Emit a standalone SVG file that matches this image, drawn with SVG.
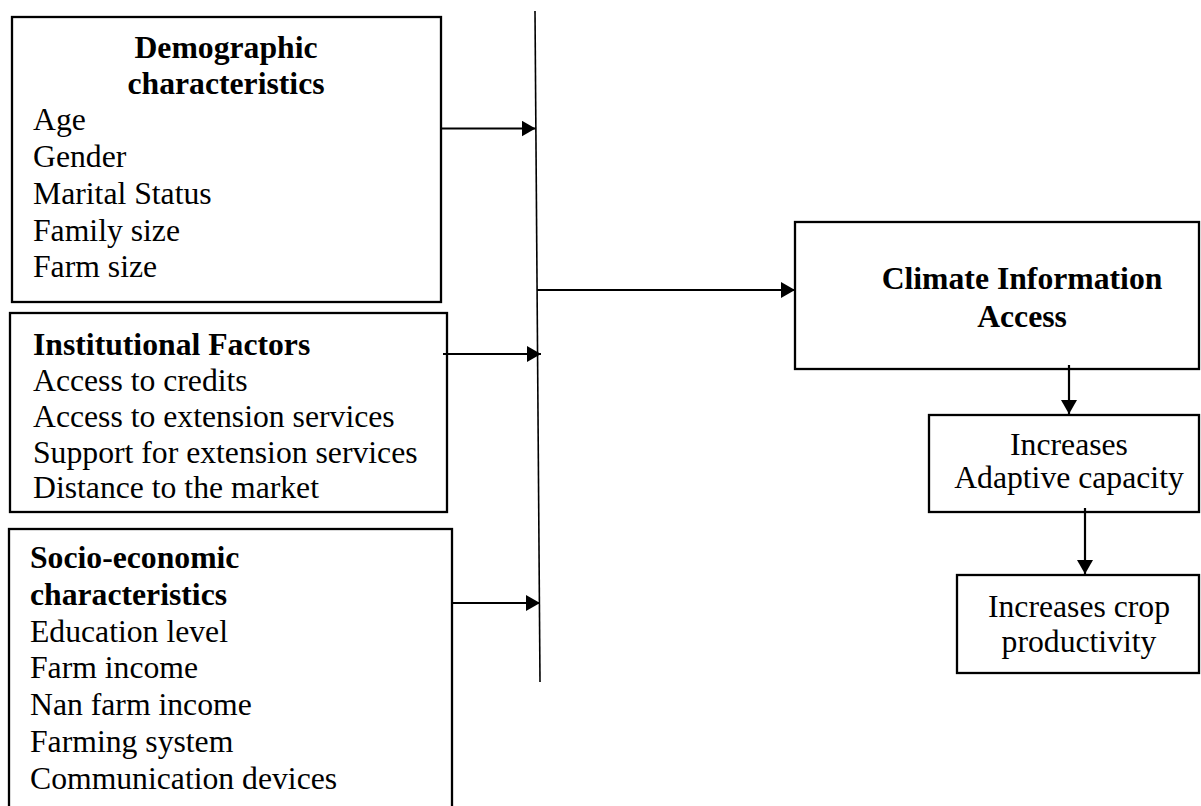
<svg xmlns="http://www.w3.org/2000/svg" width="1201" height="806" viewBox="0 0 1201 806">
<style>
.box{fill:#fff;stroke:#000;stroke-width:2.3}
.t{font-family:"Liberation Serif","Times New Roman",serif;font-size:31.7px;fill:#000}
.b{font-weight:bold}
.c{text-anchor:middle}
.ln{stroke:#000;stroke-width:2.2;fill:none}
.ar{stroke:#000;stroke-width:2.2;fill:none;marker-end:url(#ah)}
</style>
<defs>
<marker id="ah" viewBox="0 0 14 16" refX="14" refY="8" markerWidth="14" markerHeight="16" markerUnits="userSpaceOnUse" orient="auto">
<path d="M0,0 L14,8 L0,16 z" fill="#000"/>
</marker>
</defs>
<rect width="1201" height="806" fill="#fff"/>
<g id="demographic">
<rect class="box" x="12" y="17" width="429" height="285"/>
<text class="t b c" x="226" y="58">Demographic</text>
<text class="t b c" x="226" y="94">characteristics</text>
<text class="t" x="33" y="130">Age</text>
<text class="t" x="33" y="167">Gender</text>
<text class="t" x="33" y="204">Marital Status</text>
<text class="t" x="33" y="241">Family size</text>
<text class="t" x="33" y="277">Farm size</text>
</g>
<g id="institutional">
<rect class="box" x="10" y="313" width="437" height="199"/>
<text class="t b" x="33" y="355">Institutional Factors</text>
<text class="t" x="33" y="391">Access to credits</text>
<text class="t" x="33" y="427">Access to extension services</text>
<text class="t" x="33" y="463">Support for extension services</text>
<text class="t" x="33" y="498">Distance to the market</text>
</g>
<g id="socioeconomic">
<rect class="box" x="9" y="529" width="443" height="290"/>
<text class="t b" x="30" y="568">Socio-economic</text>
<text class="t b" x="30" y="605">characteristics</text>
<text class="t" x="30" y="642">Education level</text>
<text class="t" x="30" y="678">Farm income</text>
<text class="t" x="30" y="715">Nan farm income</text>
<text class="t" x="30" y="752">Farming system</text>
<text class="t" x="30" y="789">Communication devices</text>
</g>
<g id="climate">
<rect class="box" x="795" y="222" width="404" height="147"/>
<text class="t b c" x="1022" y="289">Climate Information</text>
<text class="t b c" x="1022" y="327">Access</text>
</g>
<g id="adaptive">
<rect class="box" x="929" y="415" width="270" height="97"/>
<text class="t c" x="1069" y="455">Increases</text>
<text class="t c" x="1069" y="488">Adaptive capacity</text>
</g>
<g id="productivity">
<rect class="box" x="957" y="575" width="242" height="98"/>
<text class="t c" x="1079" y="617">Increases crop</text>
<text class="t c" x="1079" y="652">productivity</text>
</g>
<g id="connectors">
<line class="ln" x1="535" y1="11" x2="540" y2="682" style="stroke-width:1.6"/>
<line class="ar" x1="441" y1="128.5" x2="535.5" y2="128.5"/>
<line class="ar" x1="443" y1="354" x2="541" y2="354"/>
<line class="ar" x1="452" y1="603" x2="540" y2="603"/>
<line class="ar" x1="537" y1="290" x2="795" y2="290"/>
<line class="ar" x1="1069" y1="365" x2="1069" y2="414"/>
<line class="ar" x1="1085" y1="508" x2="1085" y2="574"/>
</g>
</svg>
